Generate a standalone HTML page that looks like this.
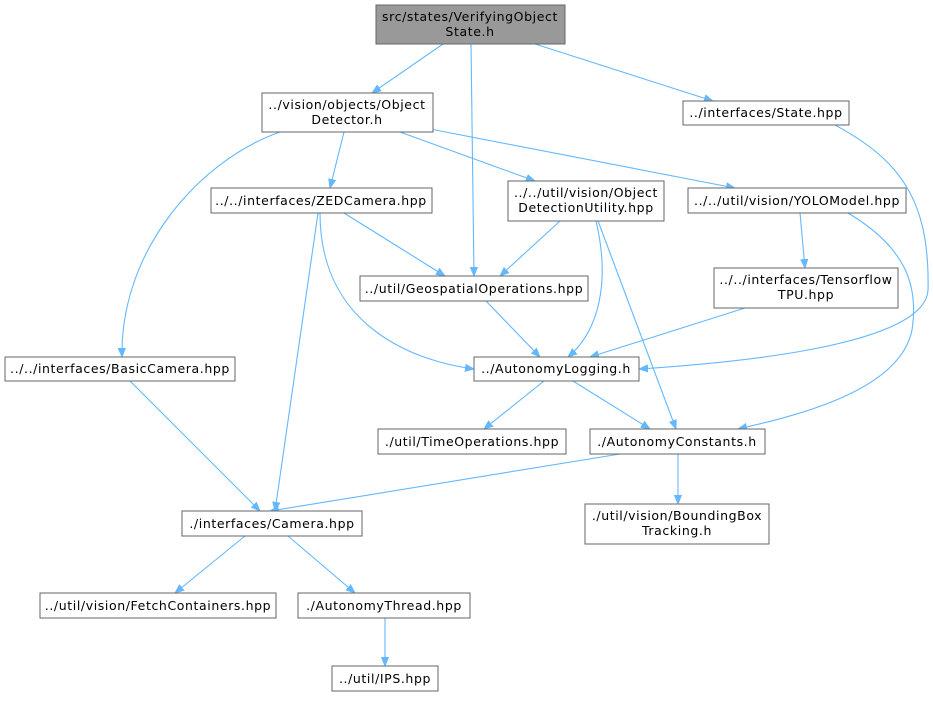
<!DOCTYPE html>
<html><head><meta charset="utf-8"><style>
html,body{margin:0;padding:0;background:#fff;}
svg text{font-family:"DejaVu Sans","Liberation Sans",sans-serif;font-size:12.5px;letter-spacing:0.6px;fill:#000;text-anchor:middle;}
.n{fill:#fff;stroke:#666;stroke-width:1;}
.e{fill:none;stroke:#63b8ff;stroke-width:1.1;marker-end:url(#a);}
</style></head><body>
<svg width="933" height="696" viewBox="0 0 933 696" xmlns="http://www.w3.org/2000/svg">
<defs><marker id="a" viewBox="0 0 10 10" refX="10" refY="5" markerWidth="9" markerHeight="9" orient="auto" markerUnits="userSpaceOnUse"><path d="M0,1 L10,5 L0,9 z" fill="#63b8ff" stroke="#63b8ff"/></marker></defs>
<g>
<path class="e" d="M443,44 L372,93"/>
<path class="e" d="M535,44 L713,101"/>
<path class="e" d="M471,44 L474,276"/>
<path class="e" d="M344,132 L330,188"/>
<path class="e" d="M400,132 L535,181"/>
<path class="e" d="M430,129 L735,188"/>
<path class="e" d="M280,132 C200,160 120,250 122,357"/>
<path class="e" d="M835,125 C900,160 930,200 928,290 C925,350 700,365 639,369"/>
<path class="e" d="M344,213 L445,276"/>
<path class="e" d="M320,213 C320,330 420,362 474,369"/>
<path class="e" d="M318,213 L275,511"/>
<path class="e" d="M560,221 L500,276"/>
<path class="e" d="M596,221 C610,280 600,330 568,357"/>
<path class="e" d="M598,221 L676,429"/>
<path class="e" d="M800,213 L805,268"/>
<path class="e" d="M848,213 C910,250 918,290 912,330 C900,390 800,415 738,429"/>
<path class="e" d="M486,301 L540,357"/>
<path class="e" d="M745,308 L590,357"/>
<path class="e" d="M544,381 L484,429"/>
<path class="e" d="M573,381 L650,429"/>
<path class="e" d="M620,454 L270,511"/>
<path class="e" d="M678,454 L678,504"/>
<path class="e" d="M130,381 L260,511"/>
<path class="e" d="M245,536 L175,593"/>
<path class="e" d="M288,536 L355,593"/>
<path class="e" d="M385,618 L385,666"/>
</g>
<g>
<rect x="376" y="5" width="189" height="39" fill="#999" stroke="#666"/>
<text x="470" y="21">src/states/VerifyingObject</text><text x="470" y="36">State.h</text>
<rect class="n" x="262" y="93" width="171" height="39"/>
<text x="347" y="109">../vision/objects/Object</text><text x="347" y="124">Detector.h</text>
<rect class="n" x="683" y="101" width="166" height="24"/>
<text x="766" y="117">../interfaces/State.hpp</text>
<rect class="n" x="211" y="188" width="221" height="25"/>
<text x="321" y="205">../../interfaces/ZEDCamera.hpp</text>
<rect class="n" x="508" y="181" width="156" height="40"/>
<text x="586" y="197">../../util/vision/Object</text><text x="586" y="212">DetectionUtility.hpp</text>
<rect class="n" x="688" y="188" width="218" height="25"/>
<text x="797" y="205">../../util/vision/YOLOModel.hpp</text>
<rect class="n" x="360" y="276" width="228" height="25"/>
<text x="474" y="293">../util/GeospatialOperations.hpp</text>
<rect class="n" x="714" y="268" width="184" height="40"/>
<text x="806" y="284">../../interfaces/Tensorflow</text><text x="806" y="299">TPU.hpp</text>
<rect class="n" x="5" y="357" width="230" height="24"/>
<text x="120" y="373">../../interfaces/BasicCamera.hpp</text>
<rect class="n" x="474" y="357" width="165" height="24"/>
<text x="556" y="373">../AutonomyLogging.h</text>
<rect class="n" x="378" y="429" width="188" height="25"/>
<text x="472" y="446">./util/TimeOperations.hpp</text>
<rect class="n" x="590" y="429" width="175" height="25"/>
<text x="677" y="446">./AutonomyConstants.h</text>
<rect class="n" x="182" y="511" width="180" height="25"/>
<text x="272" y="528">./interfaces/Camera.hpp</text>
<rect class="n" x="585" y="504" width="184" height="40"/>
<text x="677" y="520">./util/vision/BoundingBox</text><text x="677" y="535">Tracking.h</text>
<rect class="n" x="40" y="593" width="236" height="25"/>
<text x="158" y="610">../util/vision/FetchContainers.hpp</text>
<rect class="n" x="298" y="593" width="172" height="25"/>
<text x="384" y="610">./AutonomyThread.hpp</text>
<rect class="n" x="332" y="666" width="106" height="25"/>
<text x="385" y="683">../util/IPS.hpp</text>
</g>
</svg>
</body></html>
